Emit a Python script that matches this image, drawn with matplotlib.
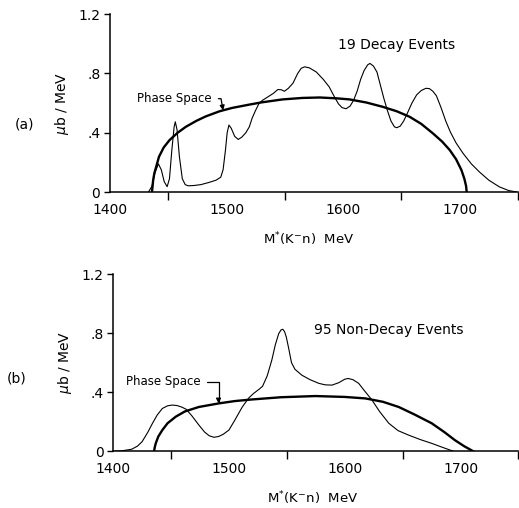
import numpy as np
import matplotlib.pyplot as plt

# ── Data ─────────────────────────────────────────────────────────────────────
# (a) 19 decay events
decay_m = [1433, 1436, 1438.5, 1441.5, 1444, 1446.5, 1449, 1451, 1453, 1455,
           1456, 1457.5, 1459.5, 1462, 1464.5, 1467, 1472, 1478, 1485, 1491,
           1495, 1497, 1499, 1500.5, 1502, 1504, 1507, 1510, 1513, 1516.5,
           1519.5, 1522, 1525, 1528, 1531, 1535, 1540, 1544, 1547, 1549.6,
           1553, 1557, 1561, 1564, 1567, 1571, 1577, 1583, 1588, 1592,
           1596, 1599, 1602.5, 1606, 1609, 1612, 1615, 1618, 1621, 1623,
           1626, 1629, 1632, 1635, 1638, 1641, 1644, 1646, 1649, 1652,
           1655, 1659, 1663, 1667, 1671, 1674, 1677, 1680, 1684, 1688,
           1692, 1697, 1703, 1710, 1717, 1725, 1734, 1742, 1749]
decay_y = [0, 0.04, 0.13, 0.19, 0.15, 0.07, 0.036, 0.09, 0.28, 0.44,
           0.474, 0.42, 0.24, 0.09, 0.05, 0.042, 0.044, 0.05, 0.065, 0.08,
           0.10, 0.15, 0.28, 0.40, 0.452, 0.43, 0.375, 0.355, 0.37, 0.40,
           0.44, 0.50, 0.553, 0.60, 0.62, 0.64, 0.665, 0.692, 0.69, 0.68,
           0.70, 0.735, 0.80, 0.835, 0.845, 0.838, 0.81, 0.76, 0.71, 0.65,
           0.595, 0.57, 0.562, 0.58, 0.62, 0.68, 0.76, 0.82, 0.858, 0.868,
           0.85, 0.81, 0.72, 0.63, 0.55, 0.48, 0.44, 0.434, 0.445, 0.48,
           0.53, 0.60, 0.655, 0.685, 0.70, 0.698, 0.68, 0.65, 0.57, 0.48,
           0.405, 0.33, 0.26, 0.19, 0.135, 0.08, 0.035, 0.01, 0]

ps_a_m = [1436, 1437, 1438, 1442, 1446, 1451, 1458, 1465, 1474, 1482,
          1494, 1505, 1519.5, 1530, 1548, 1565, 1580, 1595, 1605.5, 1620,
          1634, 1646, 1657, 1667, 1677, 1685, 1691.5, 1697, 1701.5, 1704,
          1705.5, 1706]
ps_a_y = [0, 0.08, 0.126, 0.238, 0.30, 0.35, 0.40, 0.44, 0.48, 0.51,
          0.545, 0.568, 0.59, 0.605, 0.625, 0.635, 0.638, 0.632, 0.625, 0.604,
          0.575, 0.545, 0.508, 0.46, 0.396, 0.34, 0.283, 0.22, 0.148, 0.09,
          0.04, 0]

# (b) 95 non-decay events
nondecay_m = [1399, 1408, 1416, 1421, 1425, 1430, 1434, 1438, 1442.5, 1447,
              1451, 1455, 1459, 1463, 1468, 1474, 1479, 1483, 1487, 1491,
              1495, 1500, 1505, 1511.5, 1517, 1521, 1526, 1529, 1533, 1537,
              1540, 1543, 1545, 1546.5, 1548, 1549.5, 1551.5, 1554, 1557, 1563,
              1570, 1577.6, 1583, 1589, 1595, 1600, 1603, 1607, 1612, 1617,
              1623.5, 1630, 1638, 1646, 1655, 1665, 1675, 1685, 1694]
nondecay_y = [0, 0.004, 0.014, 0.035, 0.065, 0.13, 0.19, 0.245, 0.29, 0.308,
              0.313, 0.31, 0.30, 0.285, 0.24, 0.178, 0.13, 0.105, 0.095, 0.10,
              0.115, 0.144, 0.21, 0.30, 0.36, 0.39, 0.42, 0.44, 0.51, 0.617,
              0.72, 0.797, 0.822, 0.826, 0.81, 0.774, 0.70, 0.60, 0.555, 0.515,
              0.485, 0.46, 0.45, 0.448, 0.465, 0.488, 0.493, 0.485, 0.46, 0.41,
              0.347, 0.27, 0.19, 0.14, 0.11, 0.08, 0.054, 0.025, 0]

ps_b_m = [1435.3, 1436, 1436.8, 1439, 1442.5, 1447, 1454, 1462, 1474, 1491,
          1505, 1520, 1545, 1574.7, 1600, 1617.8, 1633, 1646.6, 1660, 1675,
          1686, 1695, 1703, 1711]
ps_b_y = [0, 0.03, 0.054, 0.10, 0.144, 0.19, 0.234, 0.27, 0.30, 0.324,
          0.34, 0.351, 0.366, 0.374, 0.368, 0.358, 0.335, 0.30, 0.25, 0.19,
          0.13, 0.076, 0.035, 0]

y_ticks = [0, 0.4, 0.8, 1.2]
y_ticklabels = ['0', '.4', '.8', '1.2']
x_labels = [1400, 1500, 1600, 1700]
x_tickmarks = [1450, 1550, 1650, 1750]

# ── Figure ───────────────────────────────────────────────────────────────────
fig = plt.figure(figsize=(5.19, 5.08), dpi=100)
ax_a = fig.add_axes([0.212, 0.622, 0.786, 0.350])
ax_b = fig.add_axes([0.218, 0.1116, 0.781, 0.349])


def style_axes(ax):
    ax.set_xlim(1400, 1750)
    ax.set_ylim(0, 1.2)
    for side in ('top', 'right'):
        ax.spines[side].set_visible(False)
    for side in ('left', 'bottom'):
        ax.spines[side].set_linewidth(1.1)
    ax.set_yticks(y_ticks)
    ax.set_yticklabels(y_ticklabels, fontsize=10)
    ax.tick_params(axis='y', length=4.5, width=1, pad=2.5)
    # tick marks between the labelled values, labels without marks
    ax.set_xticks(x_tickmarks)
    ax.set_xticklabels([''] * len(x_tickmarks))
    ax.tick_params(axis='x', which='major', length=6, width=1)
    ax.set_xticks(x_labels, minor=True)
    ax.set_xticklabels([str(v) for v in x_labels], minor=True, fontsize=10)
    ax.tick_params(axis='x', which='minor', length=0, pad=8)
    ax.set_ylabel(r'$\mu$b / MeV', fontsize=10, labelpad=5)


# (a)
style_axes(ax_a)
ax_a.plot(decay_m, decay_y, color='black', lw=0.8)
ax_a.plot(ps_a_m, ps_a_y, color='black', lw=1.7)
ax_a.text(1646, 0.99, '19 Decay Events', fontsize=10, ha='center', va='center')
tip_a = 1497
ax_a.annotate('Phase Space', xy=(tip_a, np.interp(tip_a, ps_a_m, ps_a_y)),
              xytext=(1423, 0.63), fontsize=8.5, va='center',
              arrowprops=dict(arrowstyle='-|>', color='black', lw=0.9,
                              mutation_scale=7, shrinkA=3, shrinkB=0,
                              connectionstyle='angle,angleA=0,angleB=100,rad=0'))
ax_a.text(1531, -0.32, r'M$^{*}$(K$^{-}$n)  MeV', fontsize=9.5, ha='left', va='center')

# (b)
style_axes(ax_b)
ax_b.plot(nondecay_m, nondecay_y, color='black', lw=0.8)
ax_b.plot(ps_b_m, ps_b_y, color='black', lw=1.7)
ax_b.text(1638, 0.82, '95 Non-Decay Events', fontsize=10, ha='center', va='center')
tip_b = 1491
ax_b.annotate('Phase Space', xy=(tip_b, np.interp(tip_b, ps_b_m, ps_b_y)),
              xytext=(1411, 0.47), fontsize=8.5, va='center',
              arrowprops=dict(arrowstyle='-|>', color='black', lw=0.9,
                              mutation_scale=7, shrinkA=3, shrinkB=0,
                              connectionstyle='angle,angleA=0,angleB=90,rad=0'))
ax_b.text(1533, -0.32, r'M$^{*}$(K$^{-}$n)  MeV', fontsize=9.5, ha='left', va='center')

fig.text(25 / 519, 1 - 125 / 508, '(a)', fontsize=10, ha='center', va='center')
fig.text(17 / 519, 1 - 378 / 508, '(b)', fontsize=10, ha='center', va='center')

fig.savefig('out.png', dpi=100)
